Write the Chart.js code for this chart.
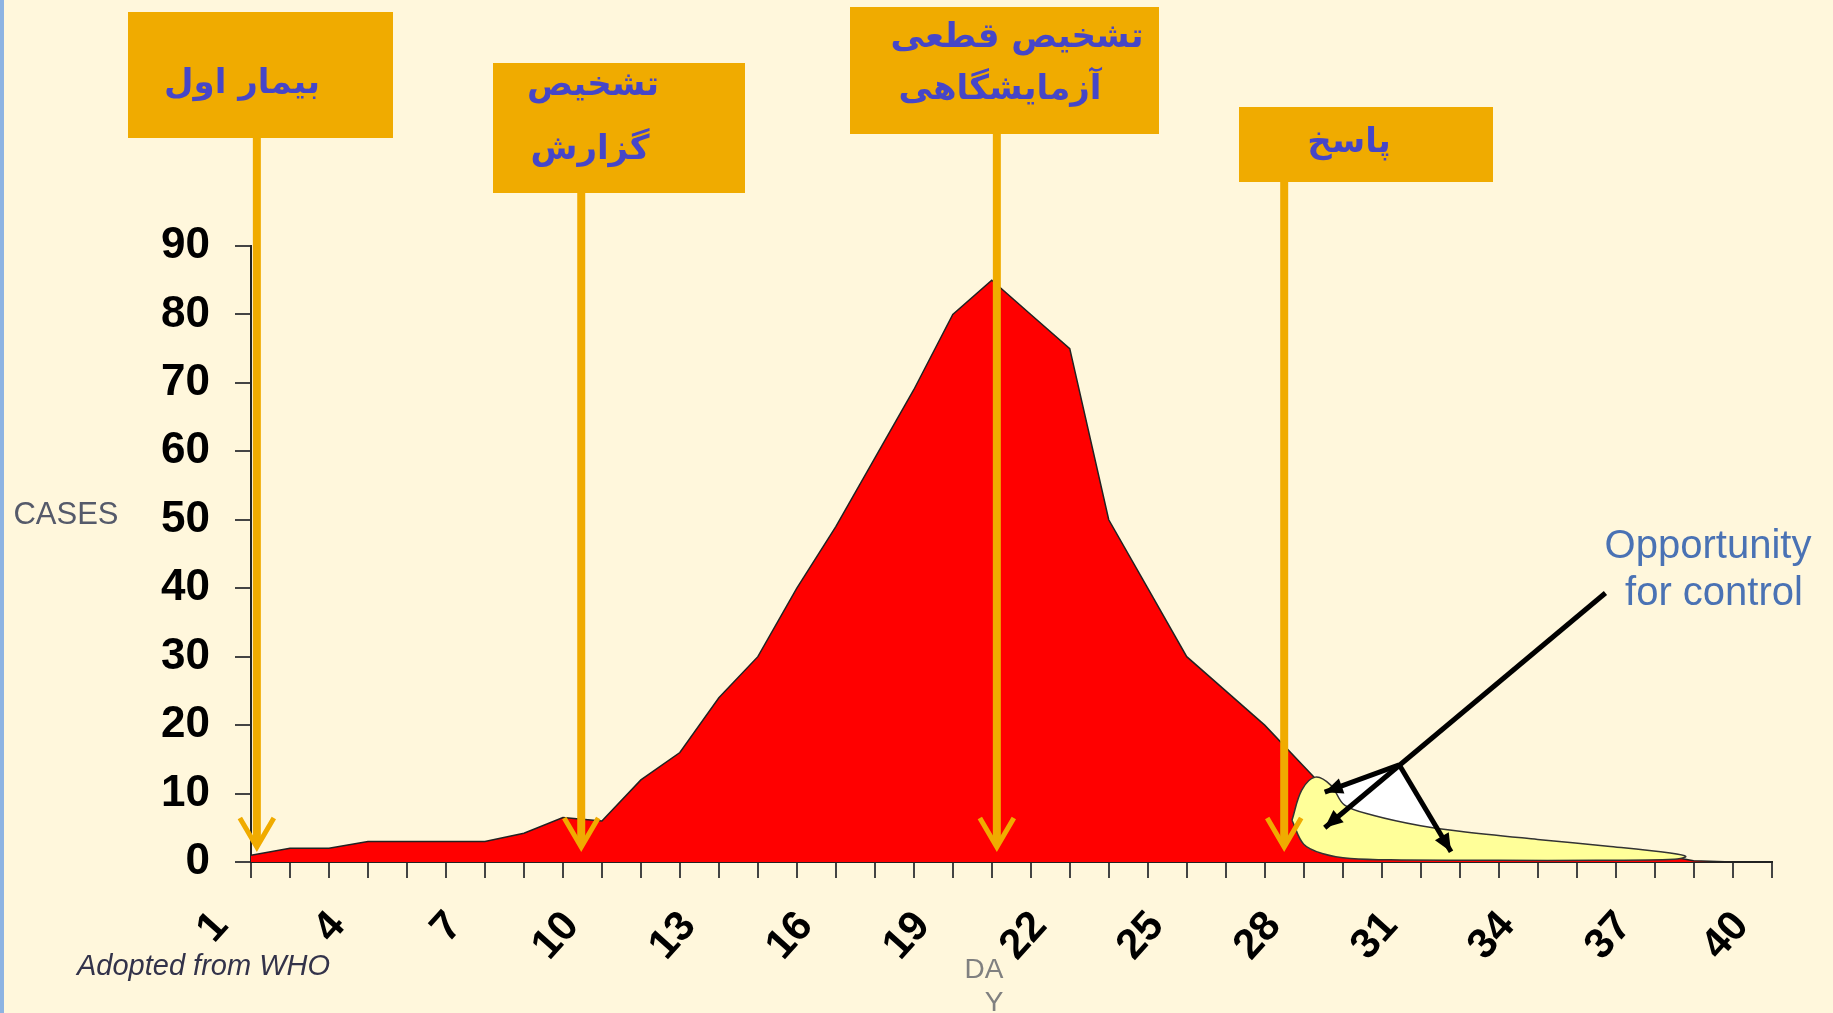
<!DOCTYPE html>
<html>
<head>
<meta charset="utf-8">
<style>
  html, body { margin:0; padding:0; background:#FFF7DC; overflow:hidden; }
  #wrap { position:relative; width:1833px; height:1013px; }
  #edge { position:absolute; left:0; top:0; width:4px; height:1013px; background:#8DB3E2; }
  canvas { display:block; }
</style>
<script src="https://cdn.jsdelivr.net/npm/chart.js@4.4.1/dist/chart.umd.min.js"></script>
</head>
<body>
<div id="wrap"><canvas id="myChart" width="1833" height="1013"></canvas><div id="edge"></div></div>
<script>
'use strict';

// epidemic curve, cases per day
var days = [1,2,3,4,5,6,7,8,9,10,11,12,13,14,15,16,17,18,19,20,
            21,22,23,24,25,26,27,28,29,30,31,32,33,34,35,36,37,38,39,40];
var cases = [1,2,2,3,3,3,3,4.2,6.5,6,12,16,24,30,40,49,59,69,80,85,
             80,75,50,40,30,25,20,14,8,5.5,4.5,3.8,3.2,2.7,2.2,1.7,1.2,0.2,0,0];
var tickLabels = ['1','4','7','10','13','16','19','22','25','28','31','34','37','40'];

// yellow area: cases after control (outline, top then bottom)
var controlDays  = [27.7,27.95,28.3,28.7,29.05,29.8,31,32,34,35.8,37.4,37.8,37.5,35.5,33,30.5,29.2,28.5,28,27.7];
var controlCases = [6.1,10.5,12.4,11.2,8.3,6.8,5.3,4.5,3.3,2.3,1.3,0.8,0.4,0.25,0.25,0.3,0.5,1.2,2.6,6.1];

// white area: cases prevented
var gapDays  = [30.45,28.75,29.1,31.45,30.45];
var gapCases = [14.2,10.8,6.5,4.0,14.2];

// events on the time line
var eventDays = [1.15, 9.47, 20.13, 27.5];
var eventLabels = [['بیمار اول'], ['تشخیص', 'گزارش'], ['تشخیص قطعی', 'آزمایشگاهی'], ['پاسخ']];
var eventTip = 2.2;

// "opportunity for control" pointer: start, junction and arrow ends
var pointerFrom = [35.74, 39.3];
var pointerJoint = [30.45, 14.2];
var pointerEnds = [[28.54, 5.0], [28.54, 10.2], [31.78, 1.5]];

function pts(xs, ys) {
  return xs.map(function (x, i) { return { x: x, y: ys[i] }; });
}

(function () {
  var ctx = document.getElementById('myChart');
  var ORANGE = '#F0AB00';

  // box layout for the event labels (pixels)
  var boxes = [
    { x: 128, y: 12, w: 265, h: 126, text: [[242, 84]] },
    { x: 493, y: 63, w: 252, h: 130, text: [[593, 86], [590, 150]] },
    { x: 850, y: 7, w: 309, h: 127, text: [[1017, 38], [1000, 90]] },
    { x: 1239, y: 107, w: 254, h: 75, text: [[1349, 143]] }
  ];

  function arrowHead(c, x0, y0, x1, y1, len, half) {
    var a = Math.atan2(y1 - y0, x1 - x0);
    c.beginPath();
    c.moveTo(x1, y1);
    c.lineTo(x1 - len * Math.cos(a) + half * Math.sin(a), y1 - len * Math.sin(a) - half * Math.cos(a));
    c.lineTo(x1 - len * Math.cos(a) - half * Math.sin(a), y1 - len * Math.sin(a) + half * Math.cos(a));
    c.closePath();
    c.fill();
  }

  var notes = {
    id: 'notes',
    afterDatasetsDraw: function (chart) {
      var c = chart.ctx;
      var xs = chart.scales.x, ys = chart.scales.y;
      c.save();

      // orange boxes, lines and open arrow heads
      boxes.forEach(function (b, i) {
        c.fillStyle = ORANGE;
        c.fillRect(b.x, b.y, b.w, b.h);
        var px = xs.getPixelForValue(eventDays[i]);
        var tip = ys.getPixelForValue(eventTip);
        c.strokeStyle = ORANGE;
        c.lineWidth = 8;
        c.beginPath();
        c.moveTo(px, b.y + b.h);
        c.lineTo(px, tip - 3);
        c.stroke();
        c.lineWidth = 5;
        c.beginPath();
        c.moveTo(px - 17, tip - 29);
        c.lineTo(px, tip);
        c.lineTo(px + 17, tip - 29);
        c.stroke();
        c.fillStyle = '#4646C8';
        c.font = 'bold 34px "DejaVu Sans"';
        c.textAlign = 'center';
        c.textBaseline = 'middle';
        eventLabels[i].forEach(function (t, k) {
          c.fillText(t, b.text[k][0], b.text[k][1]);
        });
      });

      // black pointer
      c.strokeStyle = '#000';
      c.fillStyle = '#000';
      c.lineWidth = 5;
      var fx = xs.getPixelForValue(pointerFrom[0]), fy = ys.getPixelForValue(pointerFrom[1]);
      var jx = xs.getPixelForValue(pointerJoint[0]), jy = ys.getPixelForValue(pointerJoint[1]);
      pointerEnds.forEach(function (e, i) {
        var ex = xs.getPixelForValue(e[0]), ey = ys.getPixelForValue(e[1]);
        var sx = i === 0 ? fx : jx, sy = i === 0 ? fy : jy;
        c.beginPath();
        c.moveTo(sx, sy);
        c.lineTo(ex, ey);
        c.stroke();
        arrowHead(c, sx, sy, ex, ey, 18, 8);
      });

      // texts
      c.textAlign = 'center';
      c.textBaseline = 'alphabetic';
      c.fillStyle = '#4A72B4';
      c.font = '40px "Liberation Sans"';
      c.fillText('Opportunity', 1708, 558);
      c.fillText('for control', 1714, 605);

      c.fillStyle = '#555A6A';
      c.font = '31px "Liberation Sans"';
      c.fillText('CASES', 66, 524);

      c.fillStyle = '#808080';
      c.font = '28px "Liberation Sans"';
      c.fillText('DA', 984, 978);
      c.fillText('Y', 994, 1011);

      c.fillStyle = '#33334A';
      c.font = 'italic 29px "Liberation Sans"';
      c.textAlign = 'left';
      c.fillText('Adopted from WHO', 77, 975);
      c.restore();
    }
  };

  new Chart(ctx, {
    type: 'line',
    data: {
      datasets: [
        { label: 'control', data: pts(controlDays, controlCases), order: 0, fill: 'shape',
          backgroundColor: '#FFFF99', borderColor: '#333', borderWidth: 1.5, tension: 0.35, pointRadius: 0 },
        { label: 'prevented', data: pts(gapDays, gapCases), order: 1, fill: 'shape',
          backgroundColor: '#FFFFFF', borderWidth: 0, tension: 0, pointRadius: 0 },
        { label: 'cases', data: pts(days, cases), order: 2, fill: 'origin',
          backgroundColor: '#FF0000', borderColor: '#222', borderWidth: 1.5, tension: 0, pointRadius: 0 }
      ]
    },
    options: {
      responsive: false,
      animation: false,
      devicePixelRatio: 1,
      layout: { padding: { left: 0, right: 54, top: 246, bottom: 0 } },
      plugins: { legend: { display: false }, tooltip: { enabled: false } },
      scales: {
        x: {
          type: 'linear', min: 1, max: 40,
          afterFit: function (s) { s.height = 151; },
          ticks: {
            stepSize: 1, autoSkip: false, minRotation: 48, maxRotation: 48,
            padding: 24, labelOffset: -30, color: '#000',
            font: { family: 'Liberation Sans', size: 42, weight: 'bold' },
            callback: function (v) { return tickLabels.indexOf(String(v)) >= 0 ? String(v) : ''; }
          },
          grid: { drawOnChartArea: false, drawTicks: true, tickLength: 16, color: '#444', lineWidth: 2 },
          border: { color: '#222', width: 2 }
        },
        y: {
          min: 0, max: 90,
          afterFit: function (s) { s.width = 251; },
          ticks: {
            stepSize: 10, padding: 25, color: '#000',
            font: { family: 'Liberation Sans', size: 44, weight: 'bold' }
          },
          grid: { drawOnChartArea: false, drawTicks: true, tickLength: 16, color: '#444', lineWidth: 2 },
          border: { color: '#222', width: 2 }
        }
      }
    },
    plugins: [notes]
  });
})();
</script>
</body>
</html>
